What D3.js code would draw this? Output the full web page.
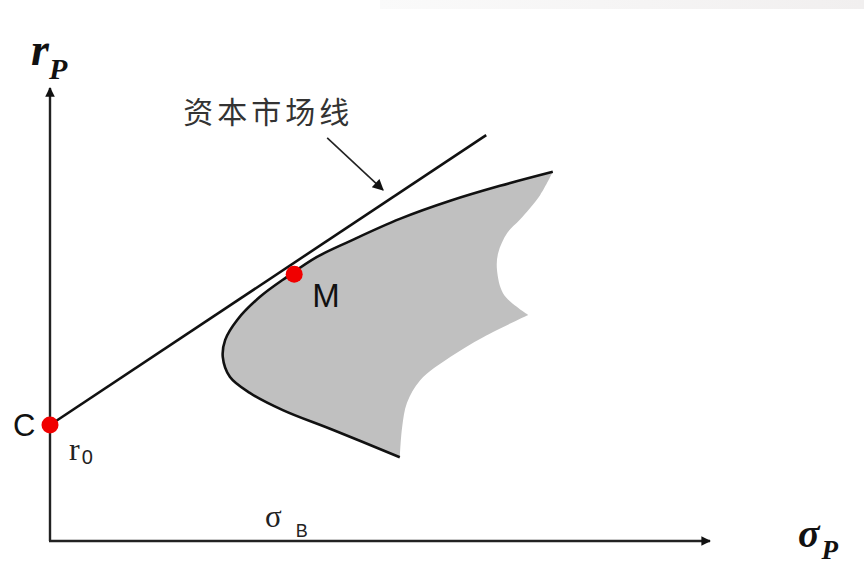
<head>
    <script src="https://d3js.org/d3.v7.min.js"></script>
    <style>
        body { margin: 0; background: #fff; }
        svg { display: block; }
    </style>
</head>
<body>
    <svg></svg>
    <script>
        // efficient frontier boundary pieces, (sigma, r) in arbitrary units
        const frontierUpper = [[8.38, 8.15], [7.5, 7.84], [6.67, 7.51], [5.83, 7.11], [5.0, 6.62], [4.45, 6.27],
            [3.95, 5.83], [3.5, 5.39], [3.12, 4.88], [2.92, 4.44], [2.88, 4.06], [3.0, 3.62], [3.33, 3.27],
            [3.88, 2.89], [4.72, 2.45], [5.83, 1.85]]
        const frontierLower = [[5.83, 1.85], [5.87, 2.52], [5.95, 3.05], [6.17, 3.55], [6.67, 4.06], [7.22, 4.5], [7.97, 4.99]]
        const frontierNotch = [[7.97, 4.99], [7.78, 5.17], [7.55, 5.47], [7.45, 5.98], [7.47, 6.36], [7.62, 6.8],
            [7.83, 7.09], [8.17, 7.64], [8.38, 8.15]]
        const marketLine = [[0, 2.56], [7.27, 8.96]]
        const pointC = [0, 2.56]
        const pointM = [4.07, 5.89]
        const calloutArrow = [[4.62, 8.9], [5.55, 7.75]]
        const calloutText = '资本市场线'

        const width = 864,
              height = 572

        const x = d3.scaleLinear().domain([0, 11]).range([50, 710])
        const y = d3.scaleLinear().domain([0, 10]).range([541, 88])

        const svg = d3.select('svg')
            .attr('width', width)
            .attr('height', height)

        // faint band at top of the screenshot
        const defs = svg.append('defs')
        const grad = defs.append('linearGradient').attr('id', 'band')
        grad.append('stop').attr('offset', '0%').attr('stop-color', '#fafafa')
        grad.append('stop').attr('offset', '100%').attr('stop-color', '#f1efef')
        svg.append('rect').attr('x', 380).attr('y', 0).attr('width', width - 380).attr('height', 9)
            .attr('fill', 'url(#band)')

        defs.append('marker').attr('id', 'head')
            .attr('viewBox', '0 0 10 10').attr('refX', 9).attr('refY', 5)
            .attr('markerWidth', 4.5).attr('markerHeight', 4).attr('orient', 'auto')
            .attr('markerUnits', 'strokeWidth')
            .append('path').attr('d', 'M0,0L10,5L0,10Z').attr('fill', '#111')
        defs.append('marker').attr('id', 'head2')
            .attr('viewBox', '0 0 10 10').attr('refX', 9).attr('refY', 5)
            .attr('markerWidth', 8).attr('markerHeight', 7).attr('orient', 'auto')
            .attr('markerUnits', 'strokeWidth')
            .append('path').attr('d', 'M0,0L10,5L0,10Z').attr('fill', '#111')

        const line = d3.line().x(d => x(d[0])).y(d => y(d[1]))
        const curve = d3.line().x(d => x(d[0])).y(d => y(d[1])).curve(d3.curveCatmullRom.alpha(0.5))

        // shaded feasible set
        const fillPath = curve(frontierUpper) + curve(frontierLower).replace(/^M/, 'L') +
            curve(frontierNotch).replace(/^M/, 'L') + 'Z'
        svg.append('path').attr('d', fillPath).attr('fill', '#c0c0c0')

        svg.append('path').attr('d', curve(frontierUpper))
            .attr('fill', 'none').attr('stroke', '#111').attr('stroke-width', 2.6)

        // axes
        svg.append('line')
            .attr('x1', x(0)).attr('y1', y(0)).attr('x2', x(0)).attr('y2', y(10))
            .attr('stroke', '#222').attr('stroke-width', 2.4).attr('marker-end', 'url(#head)')
        svg.append('line')
            .attr('x1', x(0) - 1).attr('y1', y(0)).attr('x2', x(11)).attr('y2', y(0))
            .attr('stroke', '#222').attr('stroke-width', 2.4).attr('marker-end', 'url(#head)')

        // capital market line
        svg.append('path').attr('d', line(marketLine))
            .attr('fill', 'none').attr('stroke', '#111').attr('stroke-width', 2.6)

        svg.append('path').attr('d', line(calloutArrow))
            .attr('fill', 'none').attr('stroke', '#222').attr('stroke-width', 1.6).attr('marker-end', 'url(#head2)')

        svg.append('text').attr('x', x(calloutArrow[0][0]) - 144).attr('y', y(calloutArrow[0][1]) - 15)
            .attr('font-family', 'Noto Sans CJK SC').attr('font-size', 30).attr('letter-spacing', 4)
            .attr('fill', '#333').text(calloutText)

        // points
        svg.selectAll('circle.pt').data([pointC, pointM]).enter().append('circle')
            .attr('cx', d => x(d[0])).attr('cy', d => y(d[1])).attr('r', 8.5).attr('fill', '#f00000')

        const sans = 'Liberation Sans, Arial, sans-serif'
        svg.append('text').attr('x', x(pointC[0]) - 37).attr('y', y(pointC[1]) + 11)
            .attr('font-family', sans).attr('font-size', 31).attr('fill', '#111').text('C')
        svg.append('text').attr('x', x(pointM[0]) + 18).attr('y', y(pointM[1]) + 33)
            .attr('font-family', sans).attr('font-size', 33).attr('fill', '#111').text('M')

        const r0 = svg.append('text').attr('x', x(pointC[0]) + 19).attr('y', y(pointC[1]) + 35)
            .attr('font-family', 'Liberation Serif, serif').attr('font-size', 32).attr('fill', '#222')
        r0.append('tspan').text('r')
        r0.append('tspan').attr('font-family', sans).attr('font-size', 20).attr('dx', 2).attr('dy', 4).text('0')

        const sb = svg.append('text').attr('x', 265).attr('y', y(0) - 14)
            .attr('font-family', 'Liberation Serif, serif').attr('font-size', 31).attr('fill', '#222')
        sb.append('tspan').text('σ')
        sb.append('tspan').attr('font-family', sans).attr('font-size', 18).attr('dx', 14).attr('dy', 10).text('B')

        // axis titles
        const serifBI = 'Liberation Serif, Times New Roman, serif'
        const rp = svg.append('text').attr('x', x(0) - 19).attr('y', y(10) - 23)
            .attr('font-family', serifBI).attr('font-style', 'italic').attr('font-weight', 'bold')
            .attr('font-size', 46).attr('fill', '#111')
        rp.append('tspan').text('r')
        rp.append('tspan').attr('font-size', 30).attr('dx', 0).attr('dy', 14).text('P')

        const sp = svg.append('text').attr('x', x(11) + 88).attr('y', y(0) + 6)
            .attr('font-family', serifBI).attr('font-style', 'italic').attr('font-weight', 'bold')
            .attr('font-size', 40).attr('fill', '#111')
        sp.append('tspan').text('σ')
        sp.append('tspan').attr('font-size', 27).attr('dx', 2).attr('dy', 12).text('P')
    </script>
</body>
